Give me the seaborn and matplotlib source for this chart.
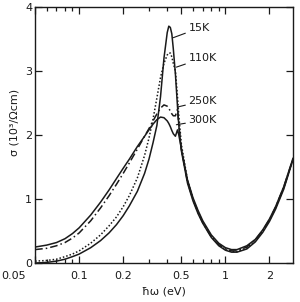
import numpy as np
import pandas as pd
import seaborn as sns
import matplotlib
matplotlib.use("Agg")
import matplotlib.pyplot as plt
from matplotlib.ticker import FixedLocator, FixedFormatter, LogLocator, NullFormatter
from matplotlib.transforms import ScaledTranslation

# photon energy (eV)
energy = [0.05, 0.06, 0.07, 0.08, 0.09, 0.10, 0.12, 0.14, 0.16, 0.18, 0.20, 0.22,
          0.25, 0.28, 0.30, 0.32, 0.34, 0.36, 0.38, 0.40, 0.41, 0.42, 0.43, 0.44,
          0.455, 0.47, 0.48, 0.50, 0.55, 0.60, 0.65, 0.70, 0.80, 0.90, 1.0, 1.1,
          1.2, 1.4, 1.6, 1.8, 2.0, 2.2, 2.5, 2.9]

# conductivity in 10^3 / Ohm cm
sigma_15k = [0.00, 0.01, 0.03, 0.06, 0.10, 0.14, 0.24, 0.35, 0.47, 0.60, 0.74, 0.89,
             1.12, 1.40, 1.62, 1.88, 2.15, 2.60, 3.20, 3.60, 3.70, 3.68, 3.58, 3.35,
             2.95, 2.45, 2.15, 1.75, 1.25, 0.97, 0.77, 0.62, 0.40, 0.27, 0.20, 0.17,
             0.17, 0.22, 0.33, 0.48, 0.65, 0.84, 1.15, 1.62]
sigma_110k = [0.03, 0.04, 0.06, 0.10, 0.14, 0.19, 0.31, 0.44, 0.58, 0.72, 0.88, 1.05,
              1.33, 1.68, 1.95, 2.25, 2.58, 2.90, 3.12, 3.25, 3.28, 3.28, 3.22, 3.12,
              3.00, 2.60, 2.30, 1.85, 1.30, 1.00, 0.80, 0.64, 0.42, 0.29, 0.21, 0.18,
              0.18, 0.24, 0.35, 0.50, 0.67, 0.86, 1.17, 1.63]
sigma_250k = [0.21, 0.23, 0.27, 0.32, 0.39, 0.47, 0.66, 0.86, 1.05, 1.23, 1.40, 1.56,
              1.78, 1.98, 2.10, 2.22, 2.33, 2.42, 2.47, 2.45, 2.42, 2.37, 2.33, 2.30,
              2.30, 2.40, 2.15, 1.78, 1.27, 0.99, 0.79, 0.63, 0.41, 0.29, 0.22, 0.19,
              0.19, 0.25, 0.36, 0.51, 0.68, 0.87, 1.18, 1.63]
sigma_300k = [0.25, 0.28, 0.32, 0.38, 0.46, 0.55, 0.75, 0.95, 1.14, 1.32, 1.48, 1.62,
              1.82, 1.98, 2.08, 2.17, 2.24, 2.28, 2.27, 2.22, 2.18, 2.13, 2.07, 2.02,
              1.98, 2.08, 2.00, 1.78, 1.30, 1.02, 0.82, 0.66, 0.44, 0.31, 0.24, 0.21,
              0.21, 0.27, 0.37, 0.52, 0.69, 0.88, 1.19, 1.64]

temps = ["15K", "110K", "250K", "300K"]
xticks = [0.05, 0.1, 0.2, 0.5, 1, 2]
xticklabels = ["0.05", "0.1", "0.2", "0.5", "1", "2"]
yticks = [0, 1, 2, 3, 4]

sns.set_style("ticks")
plt.rcParams["font.family"] = ["DejaVu Sans"]

fig = plt.figure(figsize=(3.0, 3.02), dpi=100)
ax = fig.add_axes([0.117, 0.129, 0.86, 0.848])

ink = "#1a1a1a"
series = [sigma_15k, sigma_110k, sigma_250k, sigma_300k]
styles = ["-", (0, (1, 1.3)), (0, (5, 2, 1, 2)), "-"]
for vals, ls in zip(series, styles):
    sns.lineplot(x=energy, y=vals, ax=ax, color=ink, lw=1.1, linestyle=ls, sort=False)

ax.set_xscale("log")
ax.set_xlim(0.05, 2.9)
ax.set_ylim(0, 4)
ax.xaxis.set_major_locator(FixedLocator(xticks))
ax.xaxis.set_major_formatter(FixedFormatter(xticklabels))
ax.xaxis.set_minor_locator(LogLocator(base=10, subs=np.arange(2, 10)))
ax.xaxis.set_minor_formatter(NullFormatter())
ax.set_yticks(yticks)

ax.tick_params(which="both", direction="in", top=True, right=True, labelsize=8,
               colors=ink, width=0.9, pad=2)
ax.tick_params(axis="x", which="major", pad=6)
ax.tick_params(which="major", length=5)
ax.tick_params(which="minor", length=3)
for s in ax.spines.values():
    s.set_linewidth(1.0)
    s.set_color(ink)

# the 0.05 label sits left of the corner, clear of the y "0"
first = ax.get_xticklabels()[0]
first.set_transform(first.get_transform() + ScaledTranslation(-22 / 100, 0, fig.dpi_scale_trans))

ax.set_xlabel("ħω (eV)", fontsize=8, color=ink)
ax.set_ylabel("σ (10³/Ωcm)", fontsize=8, color=ink)
ax.xaxis.set_label_coords(0.5, -0.09)
ax.yaxis.set_label_coords(-0.06, 0.55)

# curve labels with leader lines
label_pts = [(0.44, 3.52, 3.67), (0.462, 3.06, 3.20), (0.476, 2.44, 2.53), (0.462, 2.16, 2.23)]
for name, (xp, yp, yt) in zip(temps, label_pts):
    ax.annotate(name, xy=(xp, yp), xytext=(0.56, yt), fontsize=8, color=ink,
                ha="left", va="center",
                arrowprops=dict(arrowstyle="-", color=ink, lw=0.8, shrinkA=0, shrinkB=0))

fig.savefig("out.png", dpi=100)
